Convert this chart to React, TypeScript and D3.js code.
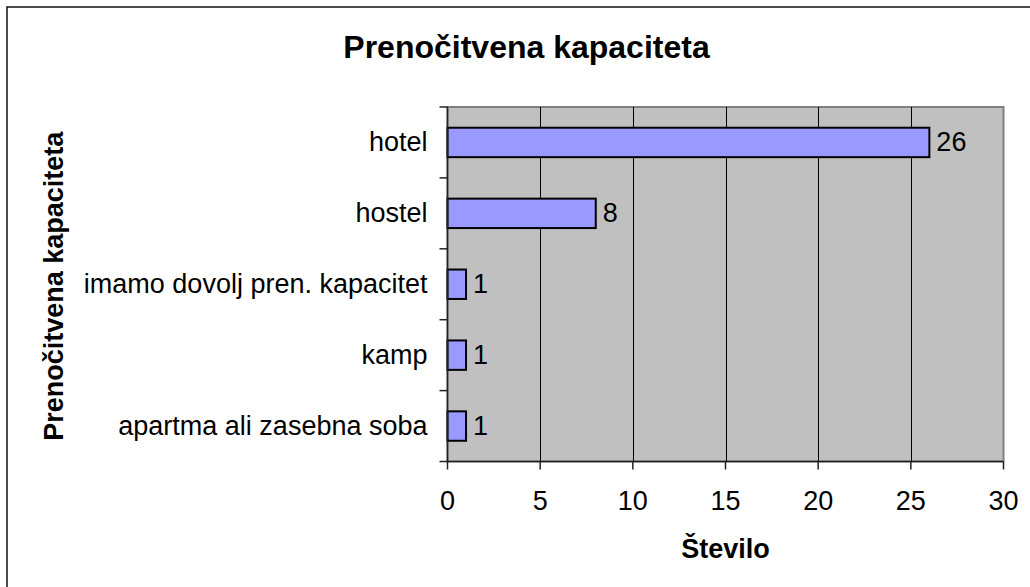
import * as d3 from "d3"
import { useLayoutEffect, useRef } from "react"

const categories = [
  "hotel",
  "hostel",
  "imamo dovolj pren. kapacitet",
  "kamp",
  "apartma ali zasebna soba",
]
const counts = [26, 8, 1, 1, 1]
const xTicks = [0, 5, 10, 15, 20, 25, 30]

const chartTitle = "Prenočitvena kapaciteta"
const yTitle = "Prenočitvena kapaciteta"
const xTitle = "Število"

export default function App() {
  const svgRef = useRef<SVGSVGElement>(null)

  useLayoutEffect(() => {
    if (!svgRef.current) return
    const svg = d3.select(svgRef.current)
    svg.selectAll("*").remove()

    const width = 1030
    const height = 587
    const plot = { left: 447.5, right: 1003.5, top: 107, bottom: 461.5 }
    const font = "Arial, 'Liberation Sans', sans-serif"

    const data = categories.map((c, i) => ({ label: c, value: counts[i] }))

    const x = d3.scaleLinear().domain([0, 30]).range([plot.left, plot.right])
    const y = d3
      .scaleBand()
      .domain(categories)
      .range([plot.top, plot.bottom])
      .padding(0)
    const barH = y.bandwidth() * 0.415

    svg.attr("width", width).attr("height", height)

    // outer chart border (right/bottom fall outside the frame)
    svg
      .append("rect")
      .attr("x", 7)
      .attr("y", 7)
      .attr("width", width + 10)
      .attr("height", height + 10)
      .attr("fill", "#fff")
      .attr("stroke", "#111")
      .attr("stroke-width", 1.5)

    // plot area
    svg
      .append("rect")
      .attr("x", plot.left)
      .attr("y", plot.top)
      .attr("width", plot.right - plot.left)
      .attr("height", plot.bottom - plot.top)
      .attr("fill", "#c0c0c0")
      .attr("stroke", "#808080")
      .attr("stroke-width", 2)

    // vertical gridlines
    svg
      .append("g")
      .selectAll("line")
      .data(xTicks.filter((t) => t > 0 && t < 30))
      .enter()
      .append("line")
      .attr("x1", (d) => Math.round(x(d)) + 0.5)
      .attr("x2", (d) => Math.round(x(d)) + 0.5)
      .attr("y1", plot.top)
      .attr("y2", plot.bottom)
      .attr("stroke", "#000")
      .attr("stroke-width", 1)

    // bars
    svg
      .append("g")
      .selectAll("rect")
      .data(data)
      .enter()
      .append("rect")
      .attr("x", x(0))
      .attr("y", (d) => y(d.label)! + (y.bandwidth() - barH) / 2)
      .attr("width", (d) => x(d.value) - x(0))
      .attr("height", barH)
      .attr("fill", "#9999ff")
      .attr("stroke", "#000")
      .attr("stroke-width", 2)

    // value labels
    svg
      .append("g")
      .selectAll("text")
      .data(data)
      .enter()
      .append("text")
      .attr("x", (d) => x(d.value) + 7)
      .attr("y", (d) => y(d.label)! + y.bandwidth() / 2 + 9)
      .attr("font-family", font)
      .attr("font-size", 27)
      .attr("fill", "#000")
      .text((d) => d.value)

    // left axis
    const left = svg.append("g")
    left
      .append("line")
      .attr("x1", plot.left)
      .attr("x2", plot.left)
      .attr("y1", plot.top)
      .attr("y2", plot.bottom)
      .attr("stroke", "#222")
      .attr("stroke-width", 1.5)
    const bounds = [...categories.map((c) => y(c)!), plot.bottom]
    left
      .selectAll(".tick")
      .data(bounds)
      .enter()
      .append("line")
      .attr("x1", plot.left - 8)
      .attr("x2", plot.left)
      .attr("y1", (d) => d)
      .attr("y2", (d) => d)
      .attr("stroke", "#222")
      .attr("stroke-width", 1.5)
    left
      .selectAll(".lbl")
      .data(categories)
      .enter()
      .append("text")
      .attr("x", plot.left - 20)
      .attr("y", (d) => y(d)! + y.bandwidth() / 2 + 9)
      .attr("text-anchor", "end")
      .attr("font-family", font)
      .attr("font-size", 27)
      .text((d) => d)

    // bottom axis
    const bottom = svg.append("g")
    bottom
      .append("line")
      .attr("x1", plot.left)
      .attr("x2", plot.right)
      .attr("y1", plot.bottom)
      .attr("y2", plot.bottom)
      .attr("stroke", "#222")
      .attr("stroke-width", 1.5)
    bottom
      .selectAll(".tick")
      .data(xTicks)
      .enter()
      .append("line")
      .attr("x1", (d) => x(d))
      .attr("x2", (d) => x(d))
      .attr("y1", plot.bottom)
      .attr("y2", plot.bottom + 8)
      .attr("stroke", "#222")
      .attr("stroke-width", 1.5)
    bottom
      .selectAll(".lbl")
      .data(xTicks)
      .enter()
      .append("text")
      .attr("x", (d) => x(d))
      .attr("y", 510)
      .attr("text-anchor", "middle")
      .attr("font-family", font)
      .attr("font-size", 27)
      .text((d) => d)

    // titles
    svg
      .append("text")
      .attr("x", 526.5)
      .attr("y", 58)
      .attr("text-anchor", "middle")
      .attr("font-family", font)
      .attr("font-weight", "bold")
      .attr("font-size", 32)
      .text(chartTitle)

    svg
      .append("text")
      .attr("x", (plot.left + plot.right) / 2)
      .attr("y", 558)
      .attr("text-anchor", "middle")
      .attr("font-family", font)
      .attr("font-weight", "bold")
      .attr("font-size", 27)
      .text(xTitle)

    svg
      .append("text")
      .attr("transform", `translate(63,${(plot.top + plot.bottom) / 2 + 2}) rotate(-90)`)
      .attr("text-anchor", "middle")
      .attr("font-family", font)
      .attr("font-weight", "bold")
      .attr("font-size", 27)
      .text(yTitle)
  }, [])

  return (
    <svg
      ref={svgRef}
      style={{ position: "absolute", left: 0, top: 0, display: "block" }}
    />
  )
}
